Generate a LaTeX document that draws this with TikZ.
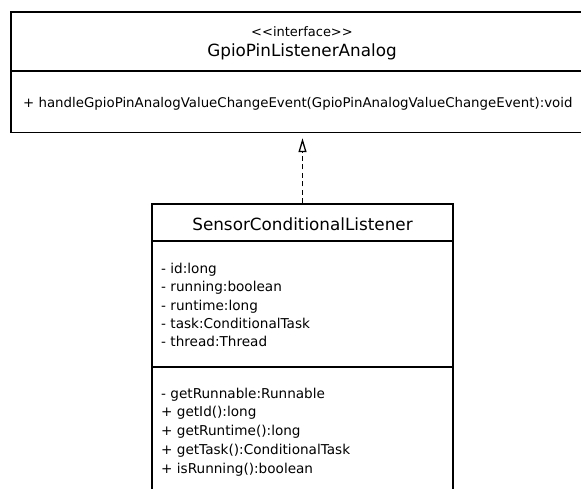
\documentclass[tikz,border=0pt]{standalone}
\usepackage{fontspec}
\setmainfont{DejaVu Sans}
\usetikzlibrary{arrows.meta,fit}
\begin{document}
\begin{tikzpicture}[x=1pt,y=-1pt,
  umlbox/.style={draw=black, line width=1.4pt, fill=white, inner sep=0pt},
  sep/.style={draw=black, line width=1.4pt},
  titletext/.style={font=\fontsize{16.8}{20}\selectfont, inner sep=0pt, anchor=base},
  stereo/.style={font=\fontsize{13}{16}\selectfont, inner sep=0pt, anchor=base},
  membertext/.style={font=\fontsize{13.6}{18.5}\selectfont, inner sep=0pt, anchor=base west},
  optext/.style={font=\fontsize{13.34}{18}\selectfont, inner sep=0pt, anchor=base west},
  realize/.style={dashed, dash pattern=on 5pt off 3.5pt, line width=1.7pt,
    -{Triangle[open, length=14pt, width=8pt, line width=1.3pt]}, shorten >=5pt}
]
\useasboundingbox (0,0) rectangle (581,489);
\clip (0,0) rectangle (581,489);
\fill[white] (0,0) rectangle (581,489);

% interface box (its right side runs past the page edge)
\coordinate (ifNW) at (11,12);
\coordinate (ifSE) at (595,132.5);
\node[umlbox, fit=(ifNW)(ifSE)] (iface) {};
\draw[sep] (iface.west |- 0,71) -- (iface.east |- 0,71);
\node[stereo] (ifstereo) at (302,37) {<{}<interface>{}>};
\node[titletext] (iftitle) at (302,57) {GpioPinListenerAnalog};
\node[optext] (ifop) at (23,108) {+ handleGpioPinAnalogValueChangeEvent(GpioPinAnalogValueChangeEvent):void};

% implementing class (its lower part runs past the page edge)
\coordinate (clsNW) at (152,204);
\coordinate (clsSE) at (453,520);
\node[umlbox, fit=(clsNW)(clsSE)] (cls) {};
\draw[sep] (cls.west |- 0,241) -- (cls.east |- 0,241);
\draw[sep] (cls.west |- 0,367) -- (cls.east |- 0,367);
\node[titletext] (clstitle) at (302.5,231) {SensorConditionalListener};

% attributes
\foreach \txt [count=\i] in {- id:long, - running:boolean, - runtime:long, - task:ConditionalTask, - thread:Thread}
  \node[membertext] (attr\i) at (161,{273.5+18.25*(\i-1)}) {\txt};

% operations
\foreach \txt [count=\i] in {- getRunnable:Runnable, + getId():long, + getRuntime():long, + getTask():ConditionalTask, + isRunning():boolean}
  \node[membertext] (op\i) at (161,{398+18.75*(\i-1)}) {\txt};

% realization
\draw[realize] (cls.north) -- (cls.north |- iface.south);
\end{tikzpicture}
\end{document}
